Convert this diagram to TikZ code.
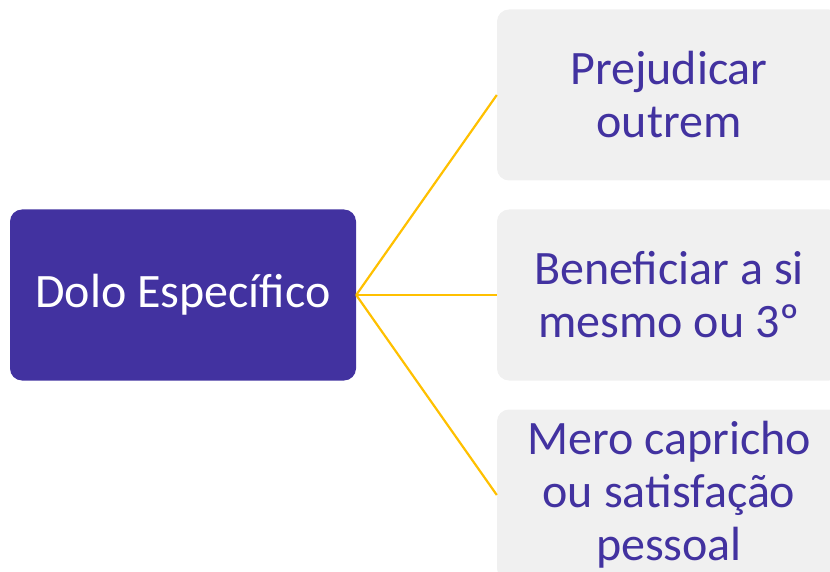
\documentclass[tikz,border=0pt]{standalone}
\usepackage{fontspec}
\setmainfont{Carlito}
\definecolor{dpurple}{RGB}{66,50,160}
\definecolor{lgray}{RGB}{240,240,240}
\definecolor{gold}{RGB}{255,192,0}
\begin{document}
\begin{tikzpicture}[x=1pt,y=-1pt,
  mainbox/.style={fill=dpurple,rounded corners=12pt,minimum width=346pt,minimum height=171pt,inner sep=0pt,text=white,font=\fontsize{48}{53}\selectfont,align=center},
  subbox/.style={fill=lgray,rounded corners=12pt,minimum width=344pt,minimum height=171pt,inner sep=0pt,text=dpurple,font=\fontsize{48}{53}\selectfont,align=center},
  link/.style={draw=gold,line width=2.2pt}]
\useasboundingbox (0,0) rectangle (830,572);
\begin{scope}
\clip (0,0) rectangle (830,572);
\node[mainbox] (m) at (183,295) {Dolo Específico};
\node[subbox] (a) at (669,95) {Prejudicar\\outrem};
\node[subbox] (b) at (669,295) {Beneficiar a si\\mesmo ou 3º};
\node[subbox] (c) at (669,495) {Mero capricho\\ou satisfação\\pessoal};
\draw[link] (m.east) -- (a.west);
\draw[link] (m.east) -- (b.west);
\draw[link] (m.east) -- (c.west);
\end{scope}
\end{tikzpicture}
\end{document}
